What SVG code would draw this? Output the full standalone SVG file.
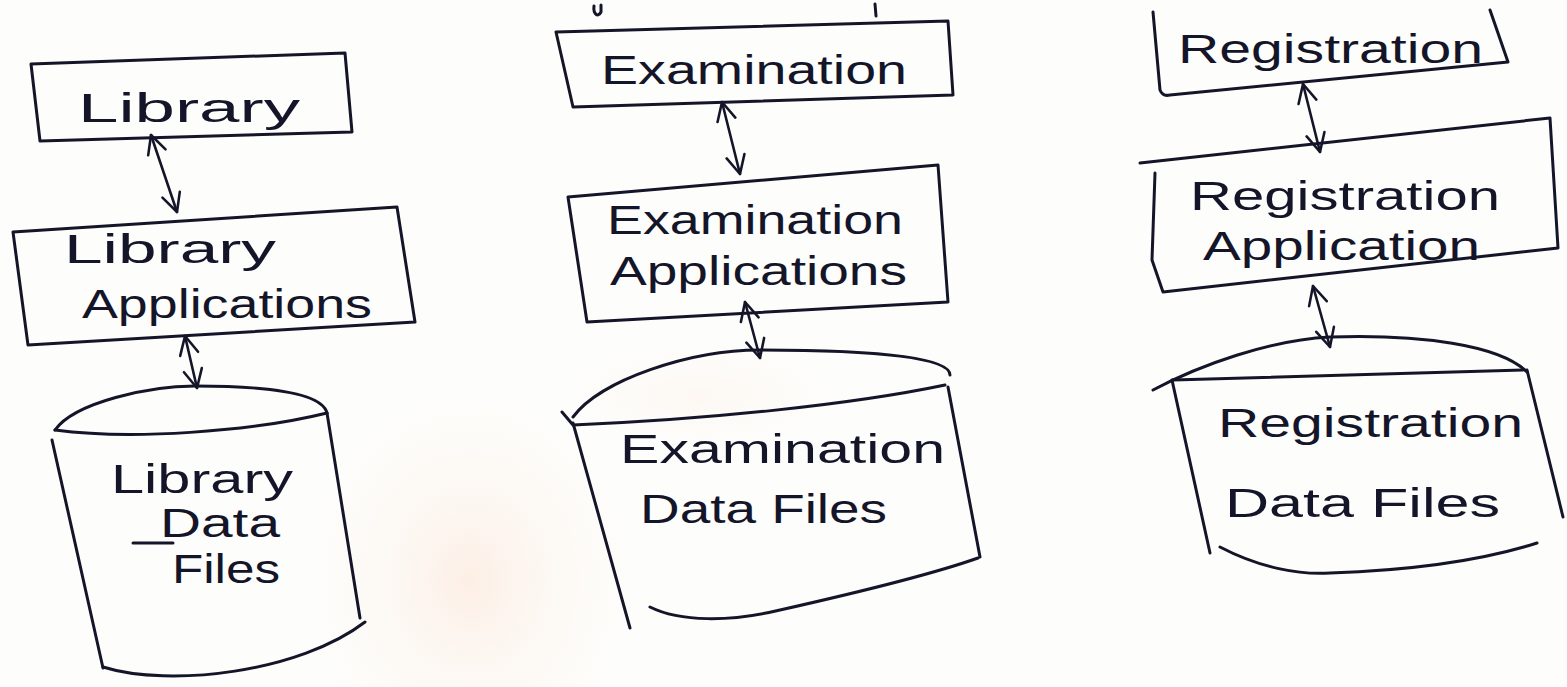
<svg xmlns="http://www.w3.org/2000/svg" width="1567" height="687" viewBox="0 0 1567 687">
<defs>
<radialGradient id="blot" cx="0.5" cy="0.5" r="0.5">
<stop offset="0" stop-color="#fcebe0" stop-opacity="0.8"/>
<stop offset="1" stop-color="#fdf8f2" stop-opacity="0"/>
</radialGradient>
<marker id="head" viewBox="0 0 12 12" refX="11" refY="6" markerWidth="22" markerHeight="22" markerUnits="userSpaceOnUse" orient="auto-start-reverse">
<path d="M1,1 L11,6 L1,11" fill="none" stroke="#15152a" stroke-width="1.4" stroke-linejoin="round" stroke-linecap="round"/>
</marker>
</defs>
<style>
.ink{fill:none;stroke:#15152a;stroke-width:3;stroke-linecap:round;stroke-linejoin:round}
.lbl{font-family:"Liberation Sans",Arial,sans-serif;font-size:40px;fill:#15152a}
.conn{fill:none;stroke:#15152a;stroke-width:2.6;stroke-linecap:round}
</style>
<rect width="1567" height="687" fill="#fdfdfb"/>
<ellipse cx="470" cy="580" rx="170" ry="200" fill="url(#blot)"/>
<ellipse cx="700" cy="395" rx="160" ry="60" fill="url(#blot)" opacity="0.4"/>

<!-- stray marks -->
<path class="ink" d="M594,6 C593,14 598,18 601,12 L601,5" stroke-width="2"/>
<path class="ink" d="M875,4 L876,16" stroke-width="2"/>

<g id="library">
<path class="ink" d="M31,64 L345,53 L352,132 L40,141 Z"/>
<text class="lbl" x="78" y="122" textLength="222" lengthAdjust="spacingAndGlyphs">Library</text>
</g>
<g id="library-applications">
<path class="ink" d="M13,232 L397,207 L415,322 L28,345 Z"/>
<text class="lbl" x="64" y="263" textLength="212" lengthAdjust="spacingAndGlyphs">Library</text>
<text class="lbl" x="82" y="318" textLength="290" lengthAdjust="spacingAndGlyphs">Applications</text>
</g>
<g id="library-data-files">
<path class="ink" d="M55,430 C75,402 150,386 195,386 C262,386 322,392 327,413"/>
<path class="ink" d="M55,430 C130,440 250,432 327,413"/>
<path class="ink" d="M52,440 L103,668"/>
<path class="ink" d="M327,413 L360,618"/>
<path class="ink" d="M103,667 C170,688 300,672 365,622"/>
<text class="lbl" x="111" y="493" textLength="182" lengthAdjust="spacingAndGlyphs">Library</text>
<text class="lbl" x="160" y="537" textLength="120" lengthAdjust="spacingAndGlyphs">Data</text>
<path class="ink" d="M133,543 L173,543" stroke-width="2.5"/>
<text class="lbl" x="172" y="583" textLength="108" lengthAdjust="spacingAndGlyphs">Files</text>
</g>

<g id="examination">
<path class="ink" d="M556,32 L948,21 L953,95 L573,107 Z"/>
<text class="lbl" x="601" y="84" textLength="306" lengthAdjust="spacingAndGlyphs">Examination</text>
</g>
<g id="examination-applications">
<path class="ink" d="M568,197 L938,165 L948,302 L587,322 Z"/>
<text class="lbl" x="607" y="234" textLength="296" lengthAdjust="spacingAndGlyphs">Examination</text>
<text class="lbl" x="610" y="285" textLength="297" lengthAdjust="spacingAndGlyphs">Applications</text>
</g>
<g id="examination-data-files">
<path class="ink" d="M573,417 C600,380 690,350 760,350 C880,350 950,358 950,375"/>
<path class="ink" d="M562,412 L573,425 C700,420 850,405 945,385"/>
<path class="ink" d="M573,423 L630,628"/>
<path class="ink" d="M948,387 L980,557"/>
<path class="ink" d="M650,607 C680,622 730,622 780,610 C860,592 930,575 978,558"/>
<text class="lbl" x="620" y="463" textLength="325" lengthAdjust="spacingAndGlyphs">Examination</text>
<text class="lbl" x="640" y="523" textLength="247" lengthAdjust="spacingAndGlyphs">Data Files</text>
</g>

<g id="registration">
<path class="ink" d="M1153,12 L1160,90 C1162,95 1166,96 1170,95 L1508,62 L1490,10"/>
<text class="lbl" x="1178" y="63" textLength="305" lengthAdjust="spacingAndGlyphs">Registration</text>
</g>
<g id="registration-application">
<path class="ink" d="M1140,163 L1550,118 L1558,248 L1163,292 L1152,260 L1155,173"/>
<text class="lbl" x="1190" y="210" textLength="310" lengthAdjust="spacingAndGlyphs">Registration</text>
<text class="lbl" x="1203" y="260" textLength="277" lengthAdjust="spacingAndGlyphs">Application</text>
</g>
<g id="registration-data-files">
<path class="ink" d="M1153,390 C1200,365 1270,340 1330,337 C1420,334 1500,345 1527,372"/>
<path class="ink" d="M1173,380 L1523,370"/>
<path class="ink" d="M1172,380 L1210,553"/>
<path class="ink" d="M1527,370 L1563,517"/>
<path class="ink" d="M1220,547 C1260,568 1300,575 1330,573 C1420,570 1490,558 1537,543"/>
<text class="lbl" x="1218" y="437" textLength="305" lengthAdjust="spacingAndGlyphs">Registration</text>
<text class="lbl" x="1225" y="517" textLength="275" lengthAdjust="spacingAndGlyphs">Data Files</text>
</g>

<g id="connectors">
<path class="conn" d="M151,135 L177,212" marker-start="url(#head)" marker-end="url(#head)"/>
<path class="conn" d="M185,336 L197,388" marker-start="url(#head)" marker-end="url(#head)"/>
<path class="conn" d="M722,102 L740,174" marker-start="url(#head)" marker-end="url(#head)"/>
<path class="conn" d="M745,302 L760,358" marker-start="url(#head)" marker-end="url(#head)"/>
<path class="conn" d="M1303,84 L1320,152" marker-start="url(#head)" marker-end="url(#head)"/>
<path class="conn" d="M1313,286 L1330,347" marker-start="url(#head)" marker-end="url(#head)"/>
</g>
</svg>
